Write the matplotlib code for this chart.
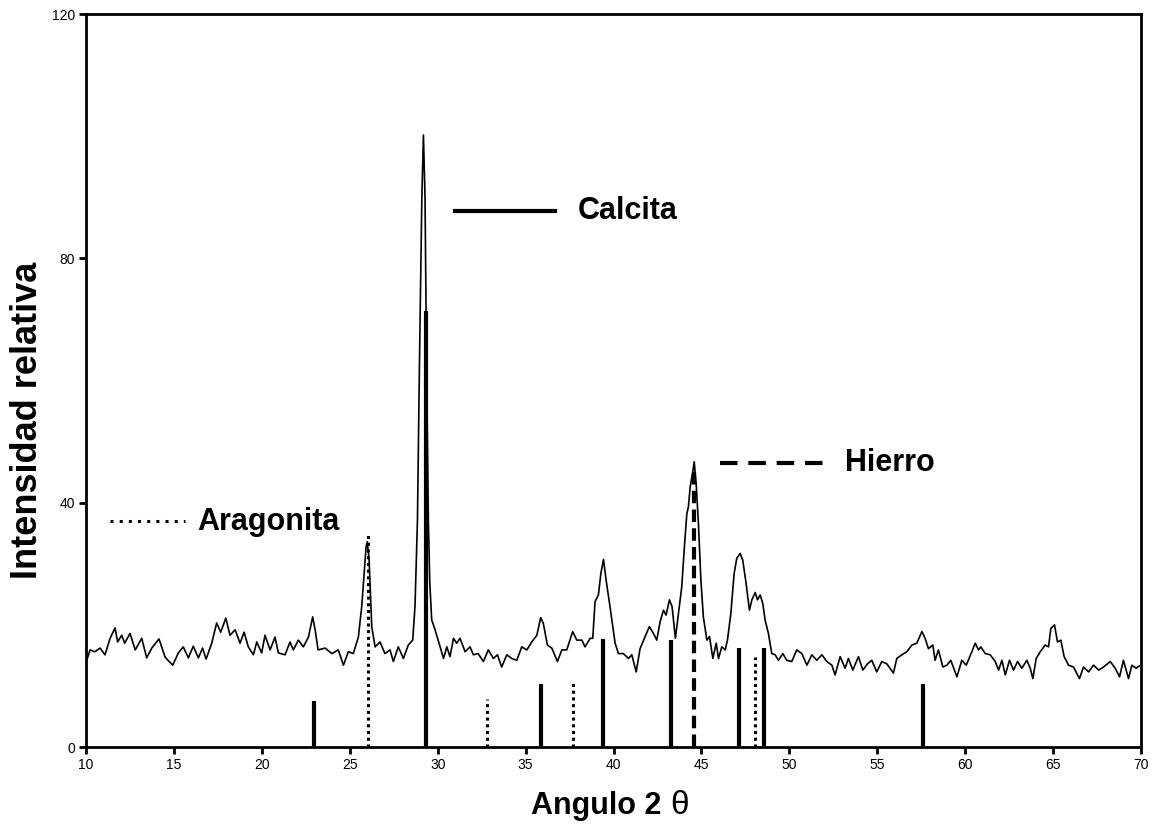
import matplotlib
matplotlib.use('Agg')
import matplotlib.pyplot as plt

plt.rcParams['font.family'] = ['Liberation Sans', 'DejaVu Sans']

# difractograma (angulo 2 theta, intensidad)
two_theta = [
    10.04, 10.23, 10.5, 10.8, 11.08, 11.37, 11.65, 11.8, 12.03, 12.2, 12.5, 12.8,
    13.17, 13.45, 13.74, 14.15, 14.5, 14.93, 15.25, 15.53, 15.82, 16.1, 16.39,
    16.63, 16.83, 17.15, 17.43, 17.66, 17.95, 18.19, 18.48, 18.76, 18.99, 19.23,
    19.52, 19.71, 19.99, 20.18, 20.47, 20.75, 20.94, 21.32, 21.6, 21.79, 22.08,
    22.36, 22.65, 22.89, 23.03, 23.2, 23.6, 23.98, 24.35, 24.64, 24.92, 25.2,
    25.49, 25.68, 25.81, 25.93, 26.0, 26.1, 26.25, 26.44, 26.72, 27.0, 27.29,
    27.48, 27.76, 28.05, 28.33, 28.58, 28.71, 28.85, 28.96, 29.1, 29.19, 29.28,
    29.37, 29.47, 29.55, 29.66, 29.85, 30.14, 30.33, 30.52, 30.7, 30.9, 31.08,
    31.27, 31.56, 31.84, 32.03, 32.3, 32.6, 32.88, 33.17, 33.4, 33.64, 33.93,
    34.21, 34.5, 34.78, 35.07, 35.35, 35.64, 35.86, 36.01, 36.24, 36.49, 36.81,
    37.06, 37.34, 37.68, 37.91, 38.2, 38.38, 38.67, 38.82, 38.95, 39.14, 39.28,
    39.43, 39.58, 39.8, 40.09, 40.28, 40.56, 40.85, 41.04, 41.29, 41.51, 41.8,
    42.04, 42.27, 42.46, 42.65, 42.84, 42.99, 43.18, 43.33, 43.52, 43.75, 43.88,
    44.02, 44.17, 44.26, 44.36, 44.51, 44.59, 44.7, 44.83, 44.97, 45.11, 45.31,
    45.46, 45.65, 45.84, 45.97, 46.16, 46.35, 46.48, 46.67, 46.86, 47.01, 47.2,
    47.35, 47.54, 47.73, 47.87, 48.06, 48.19, 48.34, 48.49, 48.62, 48.81, 49.0,
    49.19, 49.38, 49.63, 49.85, 50.14, 50.42, 50.71, 51.0, 51.28, 51.56, 51.85,
    52.13, 52.42, 52.6, 52.89, 53.17, 53.36, 53.61, 53.93, 54.18, 54.44, 54.69,
    54.97, 55.26, 55.55, 55.92, 56.11, 56.4, 56.68, 56.97, 57.25, 57.54, 57.72,
    57.91, 58.16, 58.29, 58.48, 58.73, 58.96, 59.18, 59.53, 59.81, 60.06, 60.38,
    60.57, 60.76, 60.89, 61.14, 61.42, 61.71, 61.9, 62.09, 62.28, 62.52, 62.75,
    62.98, 63.22, 63.51, 63.7, 63.85, 64.04, 64.27, 64.55, 64.74, 64.87, 65.08,
    65.25, 65.44, 65.63, 65.88, 66.16, 66.5, 66.73, 67.02, 67.3, 67.59, 67.87,
    68.25, 68.53, 68.78, 69.0, 69.29, 69.48, 69.72, 69.91,
]
intensity = [
    14.2, 15.9, 15.6, 16.2, 15.1, 17.8, 19.5, 17.2, 18.3, 17.0, 18.6, 15.9,
    17.8, 14.6, 16.2, 17.7, 14.7, 13.4, 15.4, 16.4, 14.6, 16.5, 14.6,
    16.2, 14.4, 17.0, 20.3, 18.8, 21.1, 18.3, 19.2, 17.0, 18.8, 16.4,
    15.1, 17.2, 15.4, 18.3, 15.9, 18.0, 15.4, 15.1, 17.2, 15.9, 17.5,
    16.4, 18.0, 21.3, 19.2, 15.9, 16.2, 15.3, 15.9, 13.4, 15.6, 15.3,
    18.0, 23.0, 28.2, 32.8, 33.6, 30.6, 19.7, 16.4, 17.2, 15.3, 15.9,
    14.0, 16.4, 14.5, 16.7, 17.5, 23.0, 37.2, 62.0, 90.0, 100.2, 90.0,
    62.0, 37.2, 27.0, 20.8, 19.2, 16.4, 14.5, 16.4, 14.8, 17.8, 17.0,
    17.8, 15.6, 16.4, 15.1, 15.3, 14.0, 15.9, 14.5, 15.1, 13.1, 15.1,
    14.5, 14.2, 16.4, 15.9, 17.2, 18.3, 21.2, 20.2, 16.7, 16.2, 14.0,
    15.9, 15.9, 18.9, 17.5, 17.5, 16.4, 17.8, 17.8, 23.8, 24.9, 28.4,
    30.7, 27.3, 23.0, 17.0, 15.3, 15.3, 14.5, 15.1, 12.3, 16.1, 18.1,
    19.7, 18.6, 17.5, 20.5, 22.4, 21.6, 24.1, 23.0, 17.8, 23.2, 26.2,
    32.3, 38.2, 39.3, 42.6, 45.1, 46.7, 43.1, 36.6, 27.3, 21.3, 17.5,
    18.1, 14.5, 17.0, 14.5, 16.4, 15.9, 17.5, 21.8, 28.4, 30.9, 31.7,
    30.6, 26.8, 22.4, 24.1, 25.3, 24.1, 24.9, 23.5, 20.8, 18.6, 15.3,
    15.1, 14.2, 15.3, 14.2, 14.0, 15.9, 15.3, 13.4, 15.1, 14.2, 15.1,
    14.0, 13.4, 11.8, 14.8, 12.9, 14.5, 12.6, 14.8, 12.6, 13.6, 14.2,
    12.3, 14.0, 13.6, 12.1, 14.5, 15.1, 15.6, 16.7, 17.0, 18.9, 17.8,
    16.1, 16.7, 14.2, 15.9, 13.1, 13.4, 14.2, 11.5, 14.2, 13.4, 15.6,
    17.0, 15.9, 16.4, 15.3, 15.1, 14.0, 12.6, 14.2, 11.8, 14.2, 12.6,
    14.0, 12.9, 14.2, 12.9, 11.2, 14.5, 15.6, 16.7, 16.4, 19.4, 20.0,
    17.2, 17.5, 14.8, 13.4, 13.1, 11.2, 13.1, 12.3, 13.4, 12.6, 13.1,
    14.0, 12.9, 11.5, 14.2, 11.2, 13.4, 12.9, 13.3,
]

# lineas de referencia de cada fase
calcita_pos = [22.95, 29.34, 35.85, 39.41, 43.28, 47.14, 48.57, 57.61]
calcita_int = [7.5, 71.4, 10.4, 17.7, 17.5, 16.2, 16.2, 10.4]
aragonita_pos = [26.05, 32.83, 37.72, 48.05]
aragonita_int = [34.7, 7.8, 10.7, 14.7]
hierro_pos = [44.55]
hierro_int = [46.0]

fig = plt.figure(figsize=(11.53, 8.26), dpi=100)
ax = fig.add_axes([0.0746, 0.0956, 0.915, 0.8874])

ax.plot(two_theta, intensity, color='black', lw=1.2, zorder=3)

ax.vlines(calcita_pos, 0, calcita_int, colors='black', lw=3.0, zorder=2)
ax.vlines(aragonita_pos, 0, aragonita_int, colors='black', lw=2.2,
          linestyles=(0, (1, 1.2)), zorder=2)
ax.vlines(hierro_pos, 0, hierro_int, colors='black', lw=3.0,
          linestyles=(0, (3, 1.5)), zorder=2)

# leyenda dibujada a mano, como en el original
txt = dict(fontsize=22, fontweight='bold', va='center', ha='left')
ax.plot([30.99, 36.68], [87.75, 87.75], color='black', lw=3.0)
ax.text(37.99, 87.75, 'Calcita', **txt)
ax.plot([46.06, 52.04], [46.5, 46.5], color='black', lw=3.0,
        linestyle=(0, (4.2, 2.6)))
ax.text(53.17, 46.5, 'Hierro', **txt)
ax.plot([11.37, 15.63], [37.0, 37.0], color='black', lw=2.2,
        linestyle=(0, (1, 2.0)))
ax.text(16.31, 36.8, 'Aragonita', **txt)

ax.set_xlim(10, 70)
ax.set_ylim(0, 120)
ax.set_xticks(range(10, 71, 5))
ax.set_yticks([0, 40, 80, 120])
for s in ax.spines.values():
    s.set_linewidth(2.0)
ax.tick_params(axis='both', direction='out', length=5, width=2.0,
               labelsize=10, pad=3)

fig.text(28 / 1153, 1 - 420 / 826, 'Intensidad relativa', rotation=90,
         ha='center', va='center', fontsize=26, fontweight='bold')
fig.text(661 / 1153, 1 - 814 / 826, 'Angulo 2', ha='right',
         va='baseline', fontsize=22, fontweight='bold')
fig.text(670 / 1153, 1 - 814 / 826, '\u03b8', ha='left',
         va='baseline', fontsize=24, fontweight='normal')

fig.savefig('out.png', dpi=100)
